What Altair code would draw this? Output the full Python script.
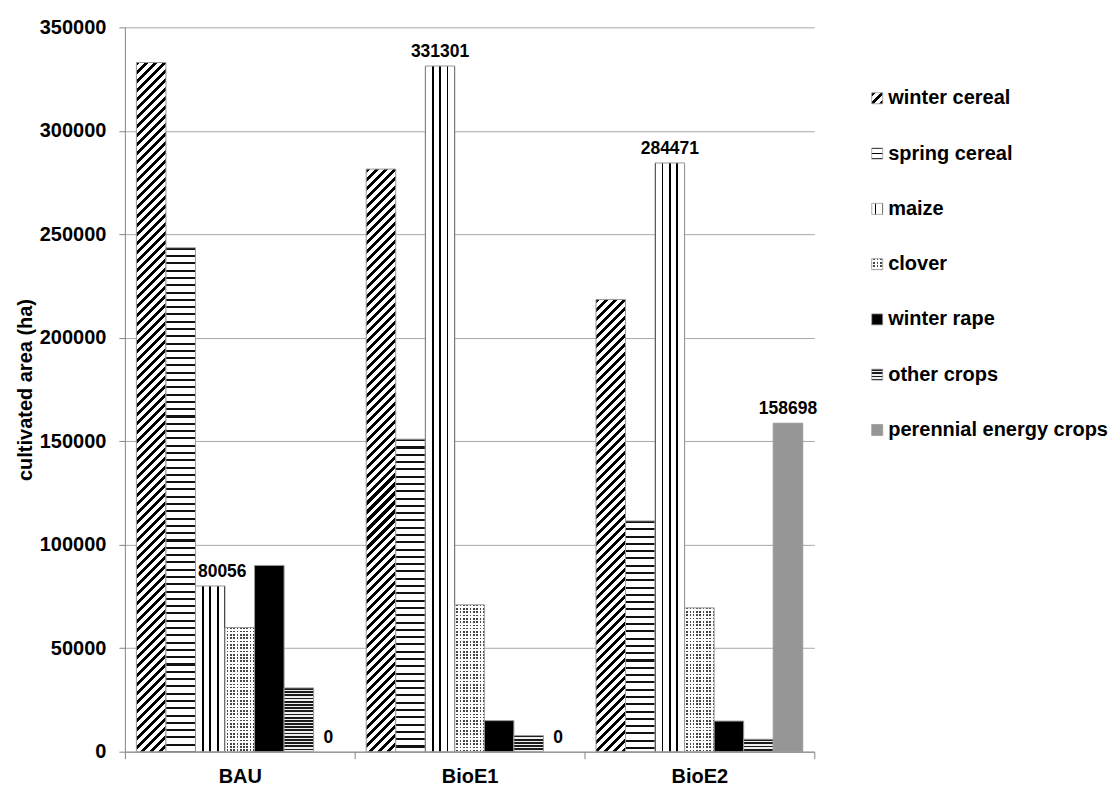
import altair as alt
import pandas as pd

# ---- data -------------------------------------------------------------
groups = ["BAU", "BioE1", "BioE2"]
crops = ["winter cereal", "spring cereal", "maize", "clover",
         "winter rape", "other crops", "perennial energy crops"]

winter_cereal = [333000, 281500, 218500]
spring_cereal = [243500, 151000, 111500]
maize = [80056, 331301, 284471]
clover = [60000, 71000, 69500]
winter_rape = [90000, 15000, 14800]
other_crops = [30800, 7800, 6000]
perennial_energy_crops = [0, 0, 158698]

labelled_crops = ["maize", "perennial energy crops"]

series = [winter_cereal, spring_cereal, maize, clover,
          winter_rape, other_crops, perennial_energy_crops]

df = pd.DataFrame(
    [{"group": g, "crop": c, "area": vals[i]}
     for c, vals in zip(crops, series) for i, g in enumerate(groups)]
)
legend_df = pd.DataFrame({"crop": crops})

# ---- layout constants -------------------------------------------------
PLOT_W, PLOT_H = 690, 725
Y_MAX = 350000
OUTER_PAD = 0.39
BAR_W = PLOT_W / len(groups) / (len(crops) + 2 * OUTER_PAD)
FONT = "Liberation Sans"
EDGE = "#9a9a9a"


# ---- hatch fills built from hard-stop linear gradients ----------------
def stops_from(intervals, dark, light):
    out = [{"offset": 0, "color": light}]
    for a, b in intervals:
        a, b = max(a, 0.0), min(b, 1.0)
        if b <= a:
            continue
        out += [{"offset": round(a, 5), "color": light},
                {"offset": round(a, 5), "color": dark},
                {"offset": round(b, 5), "color": dark},
                {"offset": round(b, 5), "color": light}]
    out.append({"offset": 1, "color": light})
    return out


def periodic(n, frac, centered=False):
    step = 1.0 / n
    res, k = [], 0
    while k * step <= 1.0 + 1e-9:
        if centered:
            res.append((k * step - frac * step / 2, k * step + frac * step / 2))
        elif k * step < 1.0:
            res.append((k * step, k * step + frac * step))
        k += 1
    return res


def horizontal(h, period, frac, dark, light, centered=False):
    return {"gradient": "linear", "x1": 0, "y1": 0, "x2": 0, "y2": 1,
            "stops": stops_from(periodic(max(h / period, 1), frac, centered), dark, light)}


def vertical(n, frac, dark, light, centered=False):
    return {"gradient": "linear", "x1": 0, "y1": 0, "x2": 1, "y2": 0,
            "stops": stops_from(periodic(n, frac, centered), dark, light)}


def diagonal(w, h, period, frac, dark, light):
    # rising stripes at 45 degrees in screen space inside a w x h box
    s = (w + h) / (w * w + h * h)
    return {"gradient": "linear", "x1": 0, "y1": 0, "x2": s * w, "y2": s * h,
            "stops": stops_from(periodic((w + h) / period, frac), dark, light)}


CLEAR = "rgba(255,255,255,0)"


def fills(crop, w, h, legend=False):
    """Return a list of fills, drawn bottom to top, for one rectangle."""
    if crop == "winter cereal":
        return [diagonal(w, h, 9.0, 0.45, "#000000", "#ffffff")]
    if crop == "spring cereal":
        if legend:
            return [horizontal(h, h / 2, 0.25, "#000000", "#ffffff", centered=True)]
        return [horizontal(h, 7.3, 0.28, "#111111", "#ffffff")]
    if crop == "maize":
        n = 3 if legend else 4
        return [vertical(n, 0.24, "#000000", "#ffffff", centered=True)]
    if crop == "clover":
        return [horizontal(h, 3.3, 0.5, "#454545", "#ffffff"),
                vertical(w / 3.3, 0.5, "#ffffff", CLEAR)]
    if crop == "winter rape":
        return ["#000000"]
    if crop == "other crops":
        return [horizontal(h, 3.2, 0.56, "#1a1a1a", "#f0f0f0")]
    return ["#969696"]


# ---- main chart -------------------------------------------------------
x_enc = alt.X("group:N", sort=groups,
              scale=alt.Scale(domain=groups, paddingInner=0, paddingOuter=0),
              axis=alt.Axis(title=None, labelAngle=0, tickBand="extent",
                            tickSize=7, labelPadding=8, grid=False))
xo_enc = alt.XOffset("crop:N", sort=crops,
                     scale=alt.Scale(domain=crops, paddingInner=0, paddingOuter=OUTER_PAD))
y_enc = alt.Y("area:Q",
              scale=alt.Scale(domain=[0, Y_MAX], nice=False, zero=True),
              axis=alt.Axis(title="cultivated area (ha)",
                            values=list(range(0, Y_MAX + 1, 50000)),
                            format="d", tickSize=6, labelPadding=13,
                            titlePadding=4, grid=True))

base = alt.Chart(df).encode(x=x_enc, xOffset=xo_enc, y=y_enc)

layers = []
for crop, vals in zip(crops, series):
    for g, v in zip(groups, vals):
        if v <= 0:
            continue
        h = v / Y_MAX * PLOT_H
        fl = fills(crop, BAR_W, h)
        sel = base.transform_filter(
            (alt.datum.crop == crop) & (alt.datum.group == g))
        for i, f in enumerate(fl):
            last = i == len(fl) - 1
            if last:
                layers.append(sel.mark_bar(fill=f, stroke=EDGE, strokeWidth=1))
            else:
                layers.append(sel.mark_bar(fill=f, strokeWidth=0))

label_style = dict(dy=-14, baseline="middle", font=FONT, fontSize=17.5,
                   fontWeight="bold", color="#000000")
label_text = alt.Text("area:Q", format="d")
labelled = base.transform_filter(
    alt.FieldOneOfPredicate(field="crop", oneOf=labelled_crops))
# the BAU maize label sits nudged to the right, clear of the spring cereal bar
nudged = (alt.datum.group == "BAU") & (alt.datum.crop == "maize")
layers.append(labelled.transform_filter(~nudged)
              .mark_text(**label_style).encode(text=label_text))
layers.append(labelled.transform_filter(nudged)
              .mark_text(dx=12, **label_style).encode(text=label_text))

main = alt.layer(*layers).properties(width=PLOT_W, height=PLOT_H)

# ---- legend panel -----------------------------------------------------
SW = 11
leg_y = alt.Y("crop:N", sort=crops,
              scale=alt.Scale(type="point", domain=crops, range=[71, 403], padding=0),
              axis=None)
leg_base = alt.Chart(legend_df).encode(y=leg_y, x=alt.value(40))
leg_layers = []
for crop in crops:
    fl = fills(crop, SW, SW, legend=True)
    sel = leg_base.transform_filter(alt.datum.crop == crop)
    for i, f in enumerate(fl):
        last = i == len(fl) - 1
        leg_layers.append(sel.mark_square(
            size=SW * SW, fill=f, fillOpacity=1, opacity=1,
            stroke=EDGE if last else None, strokeWidth=0.8 if last else 0))
leg_layers.append(
    alt.Chart(legend_df).mark_text(align="left", baseline="middle", font=FONT,
                                   fontSize=20, fontWeight="bold", color="#000000")
    .encode(y=leg_y, x=alt.value(51), text="crop:N"))
legend = alt.layer(*leg_layers).properties(width=240, height=PLOT_H)

chart = (
    alt.hconcat(main, legend, spacing=20)
    .properties(padding={"left": 15, "top": 17, "right": 5, "bottom": 0},
                background="#ffffff")
    .configure_view(stroke=None)
    .configure_axis(labelFont=FONT, labelFontSize=20, labelFontWeight="bold",
                    labelColor="#000000", titleFont=FONT, titleFontSize=20,
                    titleFontWeight="bold", titleColor="#000000",
                    domainColor="#868686", tickColor="#868686",
                    gridColor="#a8a8a8", gridWidth=1, domainWidth=1)
)

chart.save("out.html", embed_options={"renderer": "svg", "actions": False})
